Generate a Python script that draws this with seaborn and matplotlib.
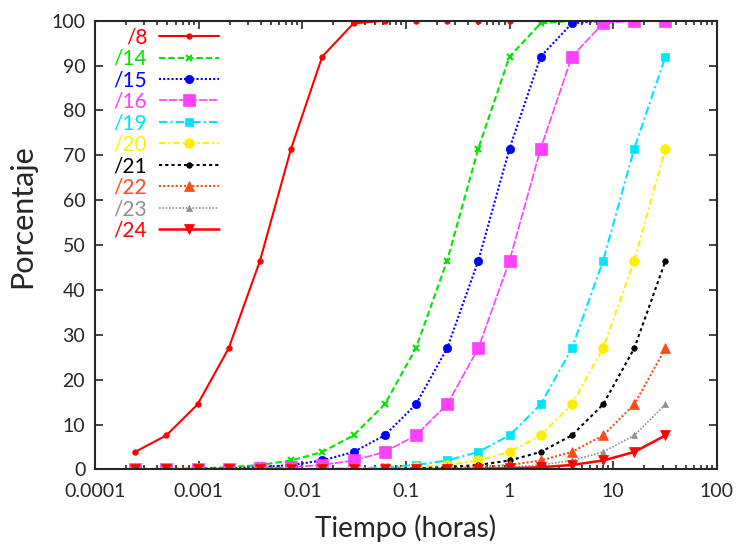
import numpy as np
import pandas as pd
import matplotlib
matplotlib.use('Agg')
import matplotlib.pyplot as plt
import seaborn as sns

# x axis: time in hours, doubling each step (2^-12 .. 2^5)
tiempo = [0.000244, 0.000488, 0.000977, 0.00195, 0.00391, 0.00781, 0.0156, 0.03125,
          0.0625, 0.125, 0.25, 0.5, 1.0, 2.0, 4.0, 8.0, 16.0, 32.0]

p8 = [3.9, 7.6, 14.5, 27, 46.5, 71.5, 92, 99.4, 100, 100, 100, 100, 100, 100, 100, 100, 100, 100]
p14 = [0.06, 0.12, 0.25, 0.5, 1.0, 2.0, 3.9, 7.6, 14.5, 27, 46.5, 71.5, 92, 99.4, 100, 100, 100, 100]
p15 = [0.03, 0.06, 0.12, 0.25, 0.5, 1.0, 2.0, 3.9, 7.6, 14.5, 27, 46.5, 71.5, 92, 99.4, 100, 100, 100]
p16 = [0.02, 0.03, 0.06, 0.12, 0.25, 0.5, 1.0, 2.0, 3.9, 7.6, 14.5, 27, 46.5, 71.5, 92, 99.4, 100, 100]
p19 = [0.0, 0.0, 0.01, 0.02, 0.03, 0.06, 0.12, 0.25, 0.5, 1.0, 2.0, 3.9, 7.6, 14.5, 27, 46.5, 71.5, 92]
p20 = [0.0, 0.0, 0.0, 0.01, 0.02, 0.03, 0.06, 0.12, 0.25, 0.5, 1.0, 2.0, 3.9, 7.6, 14.5, 27, 46.5, 71.5]
p21 = [0.0, 0.0, 0.0, 0.0, 0.01, 0.02, 0.03, 0.06, 0.12, 0.25, 0.5, 1.0, 2.0, 3.9, 7.6, 14.5, 27, 46.5]
p22 = [0.0, 0.0, 0.0, 0.0, 0.0, 0.01, 0.02, 0.03, 0.06, 0.12, 0.25, 0.5, 1.0, 2.0, 3.9, 7.6, 14.5, 27]
p23 = [0.0, 0.0, 0.0, 0.0, 0.0, 0.0, 0.01, 0.02, 0.03, 0.06, 0.12, 0.25, 0.5, 1.0, 2.0, 3.9, 7.6, 14.5]
p24 = [0.0, 0.0, 0.0, 0.0, 0.0, 0.0, 0.0, 0.01, 0.02, 0.03, 0.06, 0.12, 0.25, 0.5, 1.0, 2.0, 3.9, 7.6]

series = ['/8', '/14', '/15', '/16', '/19', '/20', '/21', '/22', '/23', '/24']
values = [p8, p14, p15, p16, p19, p20, p21, p22, p23, p24]

# (color, linestyle, marker, markersize, linewidth)
styles = {
    '/8':  ('#ff0000', '-', 'o', 4, 1.5),
    '/14': ('#00e600', (0, (3, 1.5)), 'x', 5, 1.5),
    '/15': ('#0000ff', (0, (1, 1)), 'o', 6, 1.5),
    '/16': ('#ff40ff', (0, (5, 1)), 's', 8, 1.2),
    '/19': ('#00e5ff', (0, (4, 1.5, 1, 1.5)), 's', 6, 1.5),
    '/20': ('#ffee00', (0, (3, 1.5, 1, 1.5)), 'o', 7, 1.5),
    '/21': ('#000000', (0, (1.5, 1.5)), 'o', 4, 1.5),
    '/22': ('#ff4a1a', (0, (1, 1)), '^', 7, 1.5),
    '/23': ('#909090', (0, (1, 1)), '^', 4, 1.2),
    '/24': ('#ff0000', '-', 'v', 7, 1.8),
}

df = pd.DataFrame({'Tiempo': tiempo * len(series),
                   'Porcentaje': [v for vals in values for v in vals],
                   'Serie': [s for s in series for _ in tiempo]})

sns.set_style('ticks')
plt.rcParams['font.family'] = ['Lato', 'DejaVu Sans']

fig, ax = plt.subplots(figsize=(7.42, 5.44), dpi=100)

for s in series:
    color, ls, mk, ms, lw = styles[s]
    sub = df[df['Serie'] == s]
    sns.lineplot(data=sub, x='Tiempo', y='Porcentaje', ax=ax, color=color,
                 linestyle=ls, marker=mk, markersize=ms, linewidth=lw,
                 markeredgewidth=1.5 if mk == 'x' else 0.5, markeredgecolor=color,
                 label=s)

ax.set_xscale('log')
ax.set_xlim(0.0001, 100)
ax.set_ylim(0, 100)
ax.set_yticks(range(0, 101, 10))
ax.set_xticks([0.0001, 0.001, 0.01, 0.1, 1, 10, 100])
ax.set_xticklabels(['0.0001', '0.001', '0.01', '0.1', '1', '10', '100'])
ax.tick_params(direction='in', which='both', top=True, right=True, labelsize=14, width=1.2)
ax.tick_params(which='major', length=6)
ax.tick_params(which='minor', length=3)
ax.tick_params(axis='x', which='major', pad=10)
ax.tick_params(axis='y', which='major', pad=7)
for sp in ax.spines.values():
    sp.set_linewidth(1.5)

ax.set_xlabel('Tiempo (horas)', fontsize=20, labelpad=10)
ax.set_ylabel('Porcentaje', fontsize=22)
ax.yaxis.set_label_coords(-0.095, 0.565)

# labels sit to the left of the line samples, right-aligned
ax.legend(loc='upper left', frameon=False, markerfirst=False, fontsize=15,
          handlelength=2.9, labelspacing=0.07, handletextpad=0.55,
          borderaxespad=0, borderpad=0, labelcolor='linecolor',
          bbox_to_anchor=(0.03, 0.985))

fig.subplots_adjust(left=0.128, right=0.966, top=0.962, bottom=0.137)
fig.savefig('out.png', dpi=100)
